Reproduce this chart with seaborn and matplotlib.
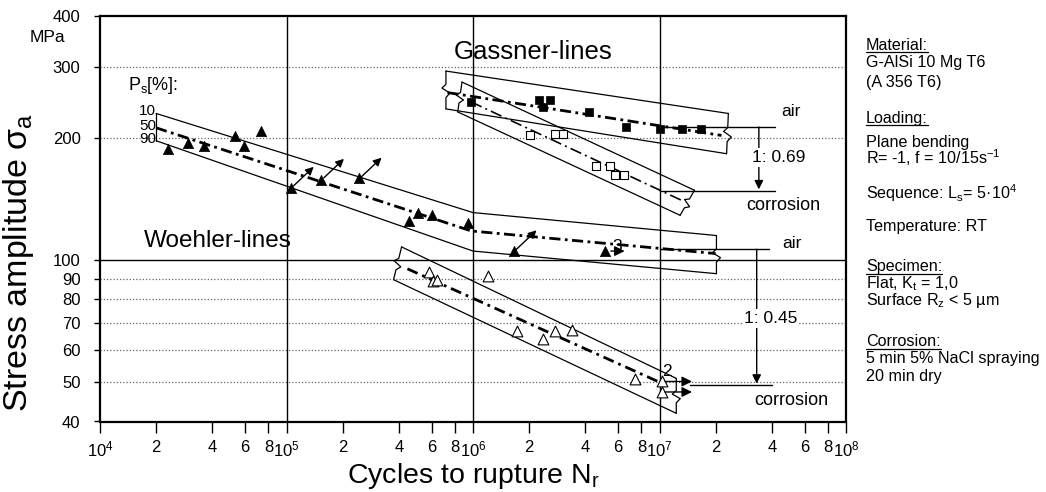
import numpy as np
import pandas as pd
import matplotlib
matplotlib.use("Agg")
import matplotlib.pyplot as plt
from matplotlib.lines import Line2D
from matplotlib.ticker import NullLocator, FixedLocator
import seaborn as sns

sns.set_theme(style="white")
plt.rcParams["font.family"] = ["Liberation Sans", "DejaVu Sans"]
plt.rcParams["mathtext.fontset"] = "custom"
plt.rcParams["mathtext.rm"] = "Liberation Sans"
plt.rcParams["mathtext.it"] = "Liberation Sans:italic"
plt.rcParams["mathtext.bf"] = "Liberation Sans:bold"
plt.rcParams["text.color"] = "black"
plt.rcParams["axes.labelcolor"] = "black"

# ---------------- test results (cycles, stress amplitude in MPa) ----------------
woehler_air_n = [2.31e4, 2.95e4, 3.59e4, 5.32e4, 5.9e4, 7.31e4, 1.06e5, 1.54e5,
                 2.45e5, 4.55e5, 5.04e5, 6.0e5, 9.44e5, 1.66e6, 5.08e6]
woehler_air_s = [188, 194, 191, 202, 191, 208, 151, 158,
                 159, 125, 131, 129, 123.5, 105.3, 105.3]

woehler_corr_n = [5.82e5, 6.07e5, 6.4e5, 1.21e6, 1.73e6, 2.37e6, 2.74e6, 3.4e6,
                  7.36e6, 1.03e7, 1.03e7]
woehler_corr_s = [93.4, 88.8, 89.5, 91.2, 66.8, 64.0, 66.8, 67.1,
                  50.8, 50.2, 47.3]

gassner_air_n = [9.75e5, 2.27e6, 2.38e6, 2.6e6, 4.2e6, 6.65e6, 1.0e7, 1.32e7, 1.67e7]
gassner_air_s = [245, 248, 239, 248, 232, 213, 210, 211, 210]

gassner_corr_n = [2.01e6, 2.76e6, 3.04e6, 4.58e6, 5.4e6, 5.75e6, 6.46e6]
gassner_corr_s = [204, 205, 205, 170.5, 170.5, 162.6, 162.6]

# specimens whose result is marked with an arrow (index into the lists above)
woehler_air_diag = [6, 7, 8, 13]
woehler_air_runout = [14]
woehler_corr_runout = [9, 10]

# ---------------- scatter bands: P_s = 10 %, 50 %, 90 % ----------------
wa_n10, wa_s10 = [2.0e4, 1.0e6, 2.02e7], [230, 131, 115]
wa_n50, wa_s50 = [2.0e4, 9.8e5, 2.0e7], [212, 118, 103.8]
wa_n90, wa_s90 = [2.0e4, 1.0e6, 2.02e7], [197, 105.3, 92.6]

wc_n10, wc_s10 = [4.14e5, 1.23e7], [107.8, 51.1]
wc_n50, wc_s50 = [4.45e5, 1.0e7], [95.2, 50.0]
wc_n90, wc_s90 = [3.75e5, 1.23e7], [89.5, 41.9]

ga_n10, ga_s10 = [7.16e5, 2.34e7], [292.6, 230]
ga_n50, ga_s50 = [7.3e5, 2.15e7], [259, 203]
ga_n90, ga_s90 = [7.16e5, 2.29e7], [236, 183]

gc_n10, gc_s10 = [8.73e5, 1.54e7], [274.9, 148.7]
gc_n50, gc_s50 = [9.75e5, 1.31e7], [245.7, 140.5]
gc_n90, gc_s90 = [8.28e5, 1.29e7], [232, 129]

# endurance levels and ratios
gassner_air_level, gassner_corr_level = 213, 148
woehler_air_level, woehler_corr_level = 106.4, 49.1
gassner_ratio_label = "1: 0.69"
woehler_ratio_label = "1: 0.45"

# axis ticks
y_ticks = [40, 50, 60, 70, 80, 90, 100, 200, 300, 400]
y_dotted = [50, 60, 70, 80, 90, 200, 300]
x_major = [1e4, 1e5, 1e6, 1e7, 1e8]
x_minor_mult = [2, 4, 6, 8]

# ---------------- figure ----------------
W, H = 1046, 492
fig = plt.figure(figsize=(W / 100, H / 100), dpi=100)
ax = fig.add_axes([100 / W, 1 - 421.5 / H, 746 / W, 405.5 / H])
ax.set_xscale("log")
ax.set_yscale("log")
ax.set_xlim(1e4, 1e8)
ax.set_ylim(40, 400)

for sp in ax.spines.values():
    sp.set_color("black")
    sp.set_linewidth(1.6)

# grid
for v in y_dotted:
    ax.axhline(v, color="0.4", lw=0.9, ls=(0, (1, 1.6)), zorder=1)
ax.axhline(100, color="black", lw=1.0, zorder=1)
for v in x_major[1:-1]:
    ax.axvline(v, color="black", lw=1.0, zorder=1)

# ticks
ax.yaxis.set_major_locator(FixedLocator(y_ticks))
ax.yaxis.set_minor_locator(NullLocator())
ax.set_yticklabels([str(v) for v in y_ticks])
x_minor = [m * d for d in x_major[:-1] for m in x_minor_mult]
ax.xaxis.set_major_locator(FixedLocator(x_major))
ax.xaxis.set_minor_locator(FixedLocator(x_minor))
ax.set_xticklabels([f"$10^{{{int(np.log10(v))}}}$" for v in x_major])
ax.set_xticklabels([str(m) for d in x_major[:-1] for m in x_minor_mult], minor=True)
ax.tick_params(axis="x", which="both", bottom=True, direction="out", length=8,
               width=1.0, pad=5, labelsize=12, colors="black")
ax.tick_params(axis="y", which="major", left=True, direction="out", length=4,
               width=1.0, pad=10, labelsize=12, colors="black")

ax.set_xlabel("Cycles to rupture N$_{\\mathrm{r}}$", fontsize=20.5, labelpad=1)
ax.set_ylabel("Stress amplitude σ$_{\\mathrm{a}}$", fontsize=24.5)
ax.yaxis.set_label_coords(-0.086, 0.393)
ax.text(-0.07, 0.946, "MPa", transform=ax.transAxes, ha="center", va="center",
        fontsize=12.5)

# ---------------- bands ----------------
band_kw = dict(color="black", lw=0.9, zorder=3)


def band_line(n, s, **kw):
    d = pd.DataFrame({"n": n, "s": s})
    sns.lineplot(data=d, x="n", y="s", ax=ax, sort=False, estimator=None, **kw)


def break_mark(p_top, p_bot):
    """Zig-zag break symbol joining the ends of two band lines."""
    a = ax.transData.transform(p_top)
    b = ax.transData.transform(p_bot)
    v = b - a
    L = np.hypot(*v)
    u = v / L
    nrm = np.array([u[1], -u[0]])
    t = np.array([0.0, 0.35, 0.45, 0.58, 0.7, 1.0])
    off = np.array([0.0, 0.0, 4.0, -4.0, 0.0, 0.0])
    pts = a + np.outer(t * L, u) + np.outer(off, nrm)
    dpts = ax.transData.inverted().transform(pts)
    ax.plot(dpts[:, 0], dpts[:, 1], color="black", lw=0.9, zorder=3)


fig.canvas.draw()

# Woehler, air
band_line(wa_n10, wa_s10, **band_kw)
band_line(wa_n90, wa_s90, **band_kw)
band_line(wa_n50, wa_s50, color="black", lw=2.0, linestyle=(0, (4, 1.6, 1, 1.6)), zorder=3)
ax.plot([wa_n10[0], wa_n90[0]], [wa_s10[0], wa_s90[0]], color="black", lw=0.9, zorder=3)
break_mark((wa_n10[-1], wa_s10[-1]), (wa_n90[-1], wa_s90[-1]))

# Woehler, corrosion
band_line(wc_n10, wc_s10, **band_kw)
band_line(wc_n90, wc_s90, **band_kw)
band_line(wc_n50, wc_s50, color="black", lw=2.0, linestyle=(0, (4, 1.8, 1, 1.8)), zorder=3)
break_mark((wc_n10[0], wc_s10[0]), (wc_n90[0], wc_s90[0]))
break_mark((wc_n10[-1], wc_s10[-1]), (wc_n90[-1], wc_s90[-1]))

# Gassner, air
band_line(ga_n10, ga_s10, **band_kw)
band_line(ga_n90, ga_s90, **band_kw)
band_line(ga_n50, ga_s50, color="black", lw=2.0, linestyle=(0, (4, 1.6, 1, 1.6)), zorder=3)
break_mark((ga_n10[0], ga_s10[0]), (ga_n90[0], ga_s90[0]))
break_mark((ga_n10[-1], ga_s10[-1]), (ga_n90[-1], ga_s90[-1]))

# Gassner, corrosion
band_line(gc_n10, gc_s10, **band_kw)
band_line(gc_n90, gc_s90, **band_kw)
band_line(gc_n50, gc_s50, color="black", lw=1.2, linestyle=(0, (7, 2.5, 1.2, 2.5)), zorder=3)
break_mark((gc_n10[0], gc_s10[0]), (gc_n90[0], gc_s90[0]))
break_mark((gc_n10[-1], gc_s10[-1]), (gc_n90[-1], gc_s90[-1]))

# ---------------- specimens ----------------
sns.scatterplot(x=woehler_air_n, y=woehler_air_s, ax=ax, marker="^", s=55,
                color="black", edgecolor="black", linewidth=0.5, zorder=5)
sns.scatterplot(x=gassner_air_n, y=gassner_air_s, ax=ax, marker="s", s=38,
                color="black", edgecolor="black", linewidth=0.5, zorder=5)
sns.scatterplot(x=gassner_corr_n, y=gassner_corr_s, ax=ax, marker="s", s=38,
                color="white", edgecolor="black", linewidth=0.8, zorder=5)
sns.scatterplot(x=woehler_corr_n, y=woehler_corr_s, ax=ax, marker="^", s=60,
                color="white", edgecolor="black", linewidth=0.8, zorder=5)

arrow_kw = dict(arrowstyle="-|>", color="black", lw=1.0, mutation_scale=12,
                shrinkA=0, shrinkB=0)
for i in woehler_air_diag:
    n, s = woehler_air_n[i], woehler_air_s[i]
    ax.annotate("", xy=(n * 1.32, s * 1.125), xytext=(n * 1.03, s * 1.01),
                arrowprops=arrow_kw, zorder=6)
for i in woehler_air_runout:
    n, s = woehler_air_n[i], woehler_air_s[i]
    ax.annotate("", xy=(n * 1.28, s), xytext=(n * 1.08, s),
                arrowprops=dict(arrow_kw, mutation_scale=15), zorder=6)
    ax.text(n * 1.17, s * 1.025, "3", fontsize=12.5, ha="center", va="center", zorder=7)
for i in woehler_corr_runout:
    n, s = woehler_corr_n[i], woehler_corr_s[i]
    ax.annotate("", xy=(n * 1.45, s), xytext=(n * 1.04, s),
                arrowprops=dict(arrow_kw, mutation_scale=15), zorder=6)
ax.text(woehler_corr_n[9] * 1.06, woehler_corr_s[9] * 1.06, "2", fontsize=12.5,
        ha="center", va="center", zorder=7)

# ---------------- endurance levels and ratios ----------------
ax.plot([1e7, 4.15e7], [gassner_air_level] * 2, color="black", lw=1.0, zorder=3)
ax.plot([1e7, 4.15e7], [gassner_corr_level] * 2, color="black", lw=1.0, zorder=3)
ax.plot([1e7, 3.86e7], [woehler_air_level] * 2, color="black", lw=1.0, zorder=3)
ax.plot([1.45e7, 4.0e7], [woehler_corr_level] * 2, color="black", lw=1.0, zorder=3)

ratio_kw = dict(arrowstyle="-|>", color="black", lw=1.0, mutation_scale=13,
                shrinkA=0, shrinkB=0)
ax.annotate("", xy=(3.41e7, gassner_corr_level * 1.01), xytext=(3.41e7, gassner_air_level),
            arrowprops=ratio_kw, zorder=4)
ax.annotate("", xy=(3.32e7, woehler_corr_level * 1.01), xytext=(3.32e7, woehler_air_level),
            arrowprops=ratio_kw, zorder=4)
box = dict(facecolor="white", edgecolor="none", pad=1.5)
ax.text(3.13e7, 179, gassner_ratio_label, fontsize=12.5, ha="left", va="center",
        bbox=box, zorder=8)
ax.text(2.83e7, 71.8, woehler_ratio_label, fontsize=12.5, ha="left", va="center",
        bbox=box, zorder=8)
ax.text(5.06e7, 232, "air", fontsize=12.5, ha="center", va="center")
ax.text(5.1e7, 110, "air", fontsize=12.5, ha="center", va="center")
ax.text(4.6e7, 136.6, "corrosion", fontsize=13, ha="center", va="center")
ax.text(5.1e7, 45.1, "corrosion", fontsize=13, ha="center", va="center")

# ---------------- labels inside the plot ----------------
ax.text(2.1e6, 326, "Gassner-lines", fontsize=18.5, ha="center", va="center")
ax.text(4.3e4, 111.2, "Woehler-lines", fontsize=17.5, ha="center", va="center")
ax.text(1.93e4, 270, "P$_{\\mathrm{s}}$[%]:", fontsize=13, ha="center", va="center")
for lab, s in zip(["10", "50", "90"], [wa_s10[0], wa_s50[0], wa_s90[0]]):
    ax.annotate(lab, xy=(wa_n10[0], s), xytext=(0, 1.5), textcoords="offset points",
                ha="right", va="center", fontsize=11)

# ---------------- test conditions ----------------
info = [
    ("Material:", True, 45),
    ("G-AlSi 10 Mg T6", False, 63),
    ("(A 356 T6)", False, 82),
    ("Loading:", True, 118),
    ("Plane bending", False, 142),
    ("R= -1, f = 10/15s$^{-1}$", False, 158),
    ("Sequence: L$_{\\mathrm{s}}$= 5·10$^{4}$", False, 193),
    ("Temperature: RT", False, 227),
    ("Specimen:", True, 267),
    ("Flat, K$_{\\mathrm{t}}$ = 1,0", False, 284),
    ("Surface R$_{\\mathrm{z}}$ < 5 µm", False, 301),
    ("Corrosion:", True, 342),
    ("5 min 5% NaCl spraying", False, 359),
    ("20 min dry", False, 377),
]
texts = []
for txt, under, ypx in info:
    t = fig.text(866 / W, 1 - ypx / H, txt, fontsize=11.6, ha="left", va="center")
    texts.append((t, under))

fig.canvas.draw()
r = fig.canvas.get_renderer()
for t, under in texts:
    if under:
        bb = t.get_window_extent(r)
        y = (bb.y0 + 0.5) / H
        fig.add_artist(Line2D([bb.x0 / W, bb.x1 / W], [y, y], color="black", lw=0.9))

fig.savefig("out.png", dpi=100)
